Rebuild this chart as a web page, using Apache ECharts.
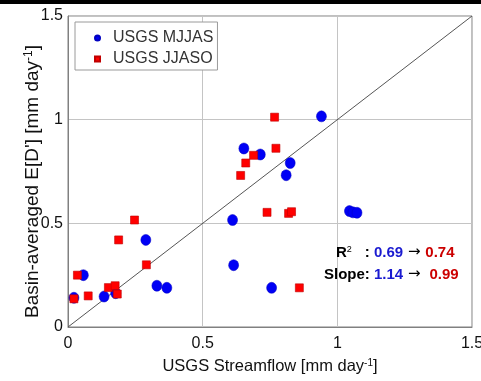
<!DOCTYPE html>
<html>
<head>
<meta charset="utf-8">
<script src="https://cdn.jsdelivr.net/npm/echarts@6/dist/echarts.min.js"></script>
<style>html,body{margin:0;padding:0;background:#fff}#c{width:481px;height:381px}</style>
</head>
<body>
<div id="c"></div>
<script>
var xTicks = [0, 0.5, 1, 1.5];
var yTicks = [0, 0.5, 1, 1.5];
var seriesNames = ['USGS MJJAS', 'USGS JJASO'];
var mjjasX = [0.941, 0.653, 0.714, 0.825, 0.810, 1.045, 1.058, 1.073, 0.611, 0.289, 0.615, 0.057, 0.330, 0.367, 0.756, 0.177, 0.134, 0.022];
var mjjasY = [1.016, 0.861, 0.832, 0.791, 0.732, 0.559, 0.553, 0.551, 0.516, 0.420, 0.298, 0.250, 0.199, 0.189, 0.189, 0.163, 0.147, 0.141];
var jjasoX = [0.767, 0.689, 0.772, 0.660, 0.641, 0.739, 0.819, 0.830, 0.247, 0.188, 0.291, 0.035, 0.859, 0.150, 0.175, 0.183, 0.075, 0.022];
var jjasoY = [1.012, 0.828, 0.862, 0.791, 0.731, 0.553, 0.548, 0.556, 0.516, 0.420, 0.300, 0.250, 0.189, 0.190, 0.199, 0.159, 0.150, 0.136];
var oneToOne = [[0, 0], [1.5, 1.5]];

function pairs(xs, ys) { return xs.map(function (x, i) { return [x, ys[i]]; }); }

var font = 'Liberation Sans, Arial, sans-serif';
var chart = echarts.init(document.getElementById('c'));
chart.setOption({
  animation: false,
  backgroundColor: '#fff',
  grid: { left: 68, right: 9, top: 16, bottom: 54, show: true, borderColor: '#808080', borderWidth: 1, containLabel: false, outerBoundsMode: 'none' },
  xAxis: {
    type: 'value', min: 0, max: 1.5, interval: 0.5,
    name: '{t|USGS Streamflow [mm day}{s|-1}{t|]}',
    nameLocation: 'middle', nameGap: 31, nameMoveOverlap: false,
    nameTextStyle: { rich: { t: { fontFamily: font, fontSize: 16.5, color: '#111' }, s: { fontFamily: font, fontSize: 10, color: '#111', verticalAlign: 'top' } } },
    axisLine: { show: true, lineStyle: { color: '#808080' } },
    axisTick: { show: false },
    axisLabel: { margin: 9, fontFamily: font, fontSize: 16, color: '#111', formatter: function (v) { return xTicks.indexOf(v) >= 0 ? String(v) : ''; } },
    splitLine: { show: true, lineStyle: { color: '#c4c4c4', width: 1 } }
  },
  yAxis: {
    type: 'value', min: 0, max: 1.5, interval: 0.5,
    name: "{t|Basin-averaged E[D'] [mm day}{s|-1}{t|]}",
    nameLocation: 'middle', nameGap: 26, nameRotate: 90, nameMoveOverlap: false,
    nameTextStyle: { padding: [0, 20, 0, 0], rich: { t: { fontFamily: font, fontSize: 19, color: '#111' }, s: { fontFamily: font, fontSize: 12, color: '#111', verticalAlign: 'top' } } },
    axisLine: { show: true, lineStyle: { color: '#808080' } },
    axisTick: { show: false },
    axisLabel: { margin: 5, fontFamily: font, fontSize: 16, color: '#111', formatter: function (v) { return yTicks.indexOf(v) >= 0 ? String(v) : ''; } },
    splitLine: { show: true, lineStyle: { color: '#c4c4c4', width: 1 } }
  },
  legend: {
    orient: 'vertical', left: 75, top: 22,
    data: seriesNames,
    backgroundColor: '#fff', borderColor: '#9a9a9a', borderWidth: 1, borderRadius: 0,
    padding: [8, 4, 3, 19], itemGap: 5, itemWidth: 5, itemHeight: 5,
    textStyle: { fontFamily: font, fontSize: 16, color: '#333', padding: [0, 0, 0, 8], lineHeight: 16 }
  },
  series: [
    {
      type: 'line', data: oneToOne, symbol: 'none', silent: true,
      lineStyle: { color: '#555', width: 1 }, z: 1
    },
    {
      name: seriesNames[0], type: 'scatter', data: pairs(mjjasX, mjjasY),
      symbol: 'circle', symbolSize: [10, 11],
      itemStyle: { color: '#0000f5', borderColor: '#0000c0', borderWidth: 0.5, opacity: 1 }, z: 3
    },
    {
      name: seriesNames[1], type: 'scatter', data: pairs(jjasoX, jjasoY),
      symbol: 'rect', symbolSize: 8,
      itemStyle: { color: '#ff0000', borderColor: '#c00000', borderWidth: 0.6, opacity: 1 }, z: 4
    }
  ],
  graphic: [
    { type: 'rect', left: 0, top: 0, shape: { width: 481, height: 4 }, style: { fill: '#000' }, z: 100 },
    {
      type: 'text', left: 336, top: 245, z: 100,
      style: {
        text: '{k|R}{s|2}{c|: }{b|0.69}{a| → }{r|0.74}',
        rich: {
          k: { fontFamily: font, fontSize: 15, fontWeight: 'bold', fill: '#000', verticalAlign: 'bottom' },
          s: { fontFamily: font, fontSize: 9, fill: '#000', verticalAlign: 'top' },
          c: { fontFamily: font, fontSize: 15, fontWeight: 'bold', fill: '#000', verticalAlign: 'bottom', padding: [0, 0, 0, 13] },
          b: { fontFamily: font, fontSize: 15, fontWeight: 'bold', fill: '#1a1ad0', verticalAlign: 'bottom' },
          a: { fontFamily: 'DejaVu Sans', fontSize: 15, fill: '#000', verticalAlign: 'bottom' },
          r: { fontFamily: font, fontSize: 15, fontWeight: 'bold', fill: '#cc0000', verticalAlign: 'bottom' }
        }
      }
    },
    {
      type: 'text', left: 324, top: 267, z: 100,
      style: {
        text: '{k|Slope: }{b|1.14}{a| → }{r| 0.99}',
        rich: {
          k: { fontFamily: font, fontSize: 15, fontWeight: 'bold', fill: '#000' },
          b: { fontFamily: font, fontSize: 15, fontWeight: 'bold', fill: '#1a1ad0' },
          a: { fontFamily: 'DejaVu Sans', fontSize: 15, fill: '#000' },
          r: { fontFamily: font, fontSize: 15, fontWeight: 'bold', fill: '#cc0000' }
        }
      }
    }
  ]
});
</script>
</body>
</html>
